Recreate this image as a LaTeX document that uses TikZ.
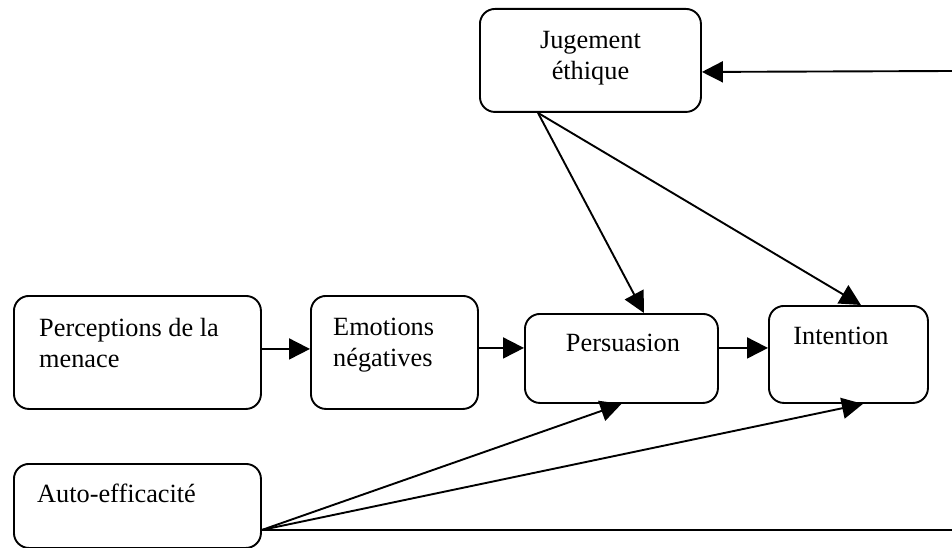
\documentclass[tikz,border=0pt]{standalone}
\usepackage{fontspec}
\setmainfont{Liberation Serif}
\usetikzlibrary{arrows.meta}
\usetikzlibrary{positioning}

\begin{document}
\begin{tikzpicture}[x=1pt, y=-1pt,
				   box/.style={draw=black, line width=1.9pt, rounded corners=15pt, anchor=north west, inner sep=0pt},
				   lbl/.style={inner sep=0pt, align=left, font=\fontsize{26.3pt}{31pt}\selectfont},
				   arr/.style={-{Triangle[length=21pt, width=21pt]}, line width=1.9pt}]
\useasboundingbox (0,0) rectangle (952,548);

\node[box, minimum width=221pt, minimum height=103pt] (jug) at (479,8) {};
\node[box, minimum width=247pt, minimum height=113pt] (men) at (13,295) {};
\node[box, minimum width=167pt, minimum height=113pt] (emo) at (310,295) {};
\node[box, minimum width=193pt, minimum height=89pt] (pers) at (524,313) {};
\node[box, minimum width=159pt, minimum height=97pt] (int) at (768,305) {};
\node[box, minimum width=247pt, minimum height=84pt] (auto) at (13,463) {};

\node[lbl, align=center, below=23pt of jug.north] (jugT) {Jugement\\éthique};
\node[lbl, below right=23pt and 26pt of men.north west] (menT) {Perceptions de la\\menace};
\node[lbl, below right=23pt and 23pt of emo.north west] (emoT) {Emotions\\négatives};
\node[lbl, below=21pt of pers.north, xshift=1.5pt] (persT) {Persuasion};
\node[lbl, below=22pt of int.north, xshift=-7.5pt] (intT) {Intention};
\node[lbl, below right=21pt and 24pt of auto.north west] (autoT) {Auto-efficacité};

\coordinate (jugB) at ([xshift=59pt]jug.south west);
\coordinate (autoR) at ([yshift=-24pt]auto.east);
\coordinate (loopT) at (952,71);
\coordinate (loopB) at (autoR -| loopT);

\draw[arr] ([yshift=3.5pt]men.east) -- ([yshift=3.5pt]emo.west);
\draw[arr] ([yshift=4.5pt]emo.east) -- ([yshift=10.5pt]pers.west);
\draw[arr] ([yshift=10.5pt]pers.east) -- ([yshift=6.5pt]int.west);
\draw[arr] (jugB) -- ([xshift=22.5pt]pers.north);
\draw[arr] (jugB) -- ([xshift=12.5pt]int.north);
\draw[arr] (autoR) -- (pers.south);
\draw[arr] (autoR) -- ([xshift=14.5pt]int.south);
\draw[line width=1.9pt] (autoR) -- (loopB);
\draw[arr] (loopT) -- ([yshift=-11.5pt]jug.east);
\end{tikzpicture}
\end{document}
